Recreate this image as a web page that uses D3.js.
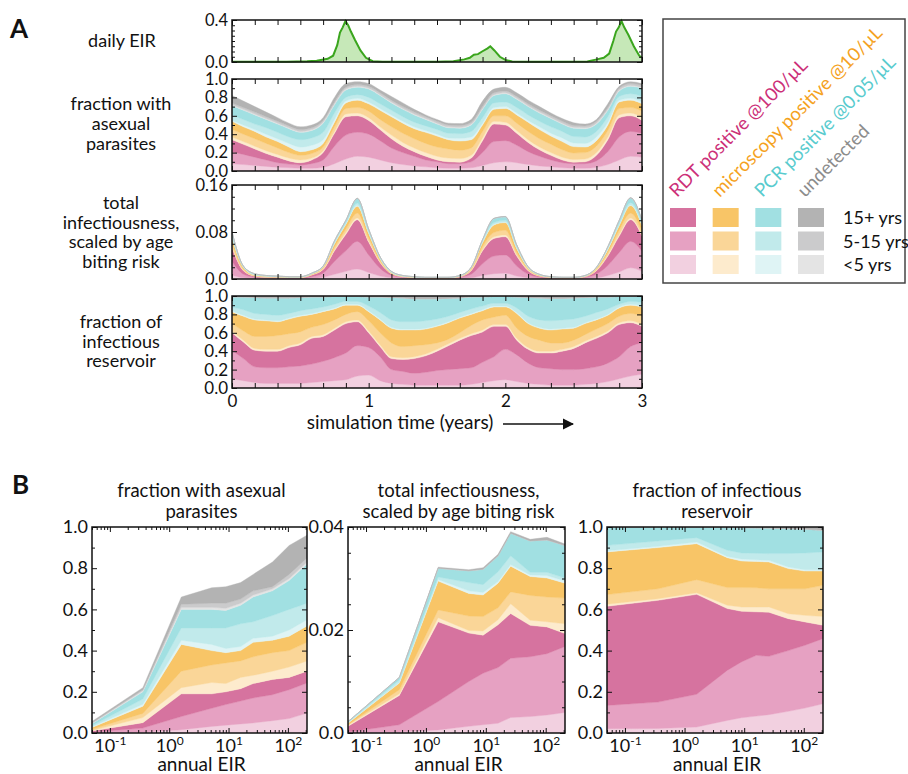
<!DOCTYPE html>
<html>
<head>
<meta charset="utf-8">
<script src="https://cdn.jsdelivr.net/npm/d3@7/dist/d3.min.js"></script>
<style>
  body { margin: 0; background: #fff; }
  svg text { font-family: Lato, "Open Sans", sans-serif; fill: #111; }
  .tick line { stroke: #111; stroke-width: 1; }
</style>
</head>
<body>
<svg id="chart" width="908" height="774"></svg>
<script>
// ---------------- data ----------------
// panel A: monthly samples over 3 simulated years
const simMonths = d3.range(37).map(k => k / 12);

// daily EIR (line)
const eirTime = [0,0.2,0.4,0.55,0.62,0.65,0.70,0.74,0.77,0.79,0.81,0.83,0.85,0.87,0.90,0.94,0.98,1.03,1.1,1.3,1.5,1.62,1.70,1.74,1.77,1.80,1.83,1.87,1.89,1.92,1.96,2.0,2.05,2.2,2.4,2.6,2.67,2.72,2.76,2.79,2.81,2.83,2.85,2.87,2.90,2.94,2.98,3.0];
const eirValue = [0.002,0.002,0.003,0.006,0.012,0.02,0.03,0.06,0.16,0.28,0.33,0.39,0.35,0.29,0.21,0.11,0.04,0.008,0.003,0.002,0.003,0.008,0.025,0.04,0.07,0.075,0.10,0.13,0.15,0.11,0.05,0.02,0.005,0.002,0.002,0.005,0.025,0.04,0.08,0.20,0.29,0.33,0.39,0.33,0.26,0.15,0.06,0.04];

// fraction with asexual parasites
const asexRdtU5  = [.08,.07,.06,.05,.04,.035,.03,.03,.04,.08,.13,.16,.15,.12,.09,.07,.055,.045,.035,.03,.03,.035,.06,.09,.10,.09,.07,.055,.045,.035,.03,.03,.04,.07,.12,.16,.15];
const asexRdt515 = [.13,.11,.09,.07,.05,.04,.035,.05,.08,.19,.26,.26,.25,.21,.16,.13,.105,.075,.065,.05,.05,.065,.14,.23,.23,.19,.14,.105,.075,.055,.05,.05,.07,.14,.25,.27,.26];
const asexRdt15  = [.13,.11,.09,.07,.06,.035,.025,.04,.08,.14,.20,.18,.15,.12,.10,.07,.05,.04,.02,.02,.015,.04,.13,.19,.17,.13,.10,.07,.05,.03,.015,.02,.06,.13,.21,.17,.14];
const asexMicU5  = [.03,.03,.03,.03,.03,.03,.03,.02,.02,.02,.03,.03,.03,.03,.04,.04,.04,.04,.04,.04,.04,.03,.03,.03,.03,.03,.03,.03,.03,.03,.03,.03,.03,.03,.03,.03,.03];
const asexMic515 = [.08,.08,.08,.08,.07,.06,.05,.05,.04,.05,.06,.06,.07,.08,.09,.10,.10,.10,.10,.10,.09,.08,.07,.06,.07,.08,.09,.09,.09,.08,.07,.07,.07,.07,.07,.06,.07];
const asexMic15  = [.09,.08,.08,.07,.07,.06,.04,.04,.04,.05,.06,.08,.08,.10,.11,.11,.11,.12,.12,.10,.10,.09,.07,.07,.08,.09,.10,.10,.09,.09,.07,.06,.06,.06,.07,.08,.08];
const asexPcrU5  = [.01,.02,.02,.03,.03,.04,.05,.05,.04,.03,.02,.02,.02,.02,.02,.02,.02,.02,.02,.02,.03,.03,.02,.02,.02,.02,.02,.03,.03,.04,.04,.04,.04,.03,.02,.02,.02];
const asexPcr515 = [.06,.06,.06,.07,.07,.07,.08,.08,.08,.07,.04,.04,.05,.05,.05,.05,.05,.05,.05,.05,.05,.06,.06,.05,.05,.06,.06,.06,.07,.07,.07,.07,.06,.06,.04,.05,.06];
const asexPcr15  = [.10,.10,.10,.09,.09,.09,.08,.08,.10,.09,.08,.08,.09,.09,.08,.08,.08,.07,.06,.06,.06,.07,.09,.08,.09,.09,.09,.09,.09,.08,.09,.09,.08,.07,.06,.08,.09];
const asexUndU5  = [.01,.01,.01,.01,.01,.01,.01,.01,.01,.01,.01,.01,.01,.01,.01,.01,.01,.01,.01,.01,.01,.01,.01,.01,.01,.01,.01,.01,.01,.01,.01,.01,.01,.01,.01,.01,.01];
const asexUnd515 = [.02,.02,.02,.02,.02,.02,.02,.02,.02,.02,.02,.02,.02,.02,.02,.02,.02,.02,.02,.02,.02,.02,.02,.02,.02,.02,.02,.02,.02,.02,.02,.02,.02,.02,.02,.02,.02];
const asexUnd15  = [.08,.07,.06,.05,.04,.03,.03,.03,.03,.05,.04,.03,.03,.03,.04,.04,.03,.02,.02,.02,.02,.03,.06,.04,.04,.04,.04,.04,.03,.03,.03,.02,.02,.04,.02,.02,.02];

// total infectiousness, scaled by age biting risk
const infRdtU5  = [.007,.002,.001,.001,.001,.0005,.0005,.001,.003,.008,.013,.017,.011,.005,.002,.001,.0005,.0005,.0005,.0005,.001,.002,.006,.009,.010,.005,.002,.001,.0005,.0005,.0005,.001,.002,.006,.012,.019,.013];
const infRdt515 = [.023,.006,.002,.001,.001,.001,.001,.003,.007,.022,.035,.047,.030,.013,.004,.002,.001,.0005,.0005,.0005,.002,.006,.020,.030,.031,.017,.006,.002,.001,.0005,.0005,.002,.006,.017,.033,.045,.034];
const infRdt15  = [.023,.006,.002,.001,.001,.001,.001,.003,.006,.018,.028,.037,.022,.010,.003,.001,.001,.0005,.0005,.0005,.001,.006,.022,.030,.031,.017,.006,.002,.001,.0005,.0005,.001,.006,.016,.028,.037,.026];
const infMicU5  = [.002,.001,0,0,0,0,0,0,.001,.002,.003,.003,.002,.001,0,0,0,0,0,0,0,.001,.002,.003,.003,.002,.001,0,0,0,0,0,.001,.002,.003,.003,.002];
const infMic515 = [.006,.002,.001,.001,.0005,.0005,.0005,.001,.002,.004,.006,.008,.005,.002,.001,.0005,.0005,.0005,.0005,.0005,.0005,.002,.005,.007,.008,.004,.002,.001,.0005,.0005,.0005,.0005,.002,.004,.007,.008,.006];
const infMic15  = [.009,.003,.001,.001,.0005,.0005,.0005,.001,.002,.006,.008,.012,.008,.004,.001,.0005,.0005,.0005,.0005,.0005,.0005,.002,.007,.013,.013,.007,.002,.001,.0005,.0005,.0005,.0005,.002,.005,.008,.013,.010];
const infPcrU5  = [.001,0,0,0,0,0,0,0,0,.001,.001,.001,.001,0,0,0,0,0,0,0,0,0,.001,.001,.001,.001,0,0,0,0,0,0,0,.001,.001,.001,.001];
const infPcr515 = [.003,.001,.001,0,0,0,0,0,.0005,.002,.002,.004,.002,.001,.001,.0005,0,0,0,0,.0005,.0005,.002,.003,.003,.002,.001,0,0,0,0,.0005,.0005,.002,.003,.004,.003];
const infPcr15  = [.006,.001,.001,.001,.001,.0005,.0005,.001,.0005,.002,.004,.008,.004,.002,.001,.0005,.0005,.0005,.0005,.0005,.0005,.0005,.002,.007,.006,.003,.001,.001,.0005,.0005,.0005,.0005,.0005,.002,.005,.008,.005];
const infUndU5  = [0,0,0,0,0,0,0,0,0,0,0,0,0,0,0,0,0,0,0,0,0,0,0,0,0,0,0,0,0,0,0,0,0,0,0,0,0];
const infUnd515 = [0,0,0,0,0,0,0,0,0,0,0,0,0,0,0,0,0,0,0,0,0,0,0,0,0,0,0,0,0,0,0,0,0,0,0,0,0];
const infUnd15  = [0,0,0,0,0,0,0,0,0,0,0,.0005,0,0,0,0,0,0,0,0,0,0,0,.0005,.0005,0,0,0,0,0,0,0,0,0,0,.0005,0];

// fraction of infectious reservoir
const resRdtU5  = [.10,.08,.06,.05,.05,.05,.05,.06,.07,.08,.09,.13,.14,.08,.05,.04,.03,.03,.03,.03,.03,.04,.06,.08,.09,.07,.05,.04,.03,.03,.03,.04,.05,.07,.10,.13,.15];
const resRdt515 = [.31,.24,.17,.17,.17,.18,.19,.20,.22,.25,.29,.33,.30,.26,.15,.14,.13,.14,.16,.17,.18,.18,.22,.26,.33,.29,.22,.18,.18,.17,.17,.17,.18,.20,.24,.32,.34];
const resRdt15  = [.19,.18,.18,.18,.18,.21,.23,.28,.27,.30,.32,.26,.16,.11,.12,.13,.16,.18,.21,.26,.31,.35,.33,.33,.25,.16,.15,.16,.17,.20,.23,.28,.31,.33,.35,.26,.18];
const resMicU5  = [.02,.02,.02,.02,.02,.02,.02,.02,.02,.02,.02,.02,.02,.02,.02,.02,.02,.02,.02,.02,.02,.02,.02,.02,.02,.02,.02,.02,.02,.02,.02,.02,.02,.02,.02,.02,.02];
const resMic515 = [.08,.10,.13,.14,.15,.13,.12,.10,.11,.09,.08,.09,.11,.13,.15,.12,.12,.10,.07,.05,.06,.09,.11,.08,.10,.11,.12,.12,.09,.07,.07,.07,.08,.08,.07,.08,.09];
const resMic15  = [.13,.16,.18,.17,.15,.16,.17,.14,.14,.12,.10,.07,.10,.14,.16,.18,.17,.17,.18,.18,.16,.12,.10,.11,.09,.16,.14,.13,.14,.15,.13,.12,.10,.09,.09,.09,.10];
const resPcrU5  = [.01,.01,.01,.01,.01,.01,.01,.01,.01,.01,.01,.01,.01,.01,.01,.01,.01,.01,.01,.01,.01,.01,.01,.01,.01,.01,.01,.01,.01,.01,.01,.01,.01,.01,.01,.01,.01];
const resPcr515 = [.04,.06,.06,.06,.06,.05,.05,.05,.04,.04,.03,.03,.05,.07,.08,.08,.08,.08,.07,.06,.05,.05,.04,.03,.03,.05,.07,.08,.09,.09,.09,.07,.07,.06,.03,.03,.04];
const resPcr15  = [.11,.14,.175,.18,.19,.17,.145,.13,.11,.085,.055,.055,.10,.17,.245,.26,.25,.24,.22,.195,.16,.13,.10,.075,.075,.12,.205,.24,.245,.235,.23,.205,.17,.13,.085,.055,.065];
const resUndU5  = [0,0,0,0,0,0,0,0,0,0,0,0,0,0,0,0,0,0,0,0,0,0,0,0,0,0,0,0,0,0,0,0,0,0,0,0,0];
const resUnd515 = [0,0,0,0,0,0,0,0,0,0,0,0,0,0,0,0,0,0,0,0,0,0,0,0,0,0,0,0,0,0,0,0,0,0,0,0,0];
const resUnd15  = [.01,.01,.015,.02,.02,.02,.015,.01,.01,.005,.005,.005,.01,.01,.015,.02,.03,.03,.03,.025,.02,.01,.01,.005,.005,.01,.015,.02,.025,.025,.02,.015,.01,.01,.005,.005,.005];

// panel B: annual EIR sweep
const annualEir = [0.05, 0.36, 1.6, 5.2, 9, 16, 26, 55, 105, 210];

const bAsexRdtU5  = [.002,.004,.016,.032,.038,.044,.049,.06,.07,.097];
const bAsexRdt515 = [.002,.02,.064,.088,.10,.111,.121,.126,.14,.146];
const bAsexRdt15  = [.006,.026,.11,.07,.062,.06,.07,.074,.06,.057];
const bAsexMicU5  = [.002,.025,.03,.055,.04,.055,.04,.04,.05,.05];
const bAsexMic515 = [.006,.02,.08,.085,.10,.08,.09,.09,.08,.09];
const bAsexMic15  = [.009,.035,.13,.07,.05,.05,.07,.06,.07,.08];
const bAsexPcrU5  = [.003,.01,.02,.03,.02,.02,.02,.02,.03,.03];
const bAsexPcr515 = [.006,.025,.06,.08,.10,.11,.08,.10,.10,.08];
const bAsexPcr15  = [.009,.035,.09,.09,.085,.09,.12,.12,.14,.19];
const bAsexUndU5  = [.002,.005,.01,.01,.01,.01,.01,.01,.01,.01];
const bAsexUnd515 = [.003,.005,.015,.02,.025,.02,.02,.01,.02,.02];
const bAsexUnd15  = [.006,.01,.035,.075,.08,.08,.08,.12,.14,.11];

const bInfRdtU5  = [0,.0002,.0006,.0013,.0016,.0019,.003,.0032,.0035,.004];
const bInfRdt515 = [.0002,.0014,.0055,.0087,.010,.0108,.0115,.0116,.0119,.0128];
const bInfRdt15  = [.0011,.0057,.0155,.0094,.0074,.0083,.0087,.0061,.0052,.0025];
const bInfMicU5  = [.0002,.0003,.0008,.0005,.0008,.001,.0019,.001,.001,.0019];
const bInfMic515 = [.0001,.0008,.0015,.0028,.0028,.0023,.0023,.0048,.0048,.005];
const bInfMic15  = [.0003,.0013,.0056,.0044,.0042,.0048,.005,.0037,.0037,.0029];
const bInfPcrU5  = [.0001,.0001,.0003,.0005,.0005,.0003,.0003,.0003,.0005,.0004];
const bInfPcr515 = [.0001,.0005,.0005,.0016,.0015,.0019,.0017,.0005,.0006,.0006];
const bInfPcr15  = [.0001,.0005,.0017,.0023,.003,.0031,.0044,.0061,.0063,.0063];
const bInfUndU5  = [0,0,0,0,0,0,0,0,0,0];
const bInfUnd515 = [0,0,0,0,0,0,0,0,0,0];
const bInfUnd15  = [0,0,.0002,.0002,.0003,.0003,.0003,.0003,.0005,.0003];

const bResRdtU5  = [.021,.022,.029,.061,.074,.082,.089,.105,.121,.142];
const bResRdt515 = [.113,.128,.159,.243,.271,.295,.283,.295,.305,.316];
const bResRdt15  = [.481,.494,.485,.30,.246,.211,.214,.155,.113,.065];
const bResMicU5  = [.01,.008,.008,.016,.021,.024,.026,.024,.032,.043];
const bResMic515 = [.047,.048,.063,.086,.094,.093,.088,.121,.129,.151];
const bResMic15  = [.207,.20,.175,.145,.129,.128,.13,.098,.086,.069];
const bResPcrU5  = [.006,.006,.008,.006,.01,.008,.008,.008,.006,.006];
const bResPcr515 = [.026,.026,.021,.03,.029,.031,.033,.065,.082,.087];
const bResPcr15  = [.089,.068,.052,.11,.123,.124,.124,.121,.116,.105];
const bResUndU5  = [0,0,0,0,0,0,0,0,0,0];
const bResUnd515 = [0,0,0,0,0,0,0,0,0,0];
const bResUnd15  = [0,0,0,.003,.003,.004,.005,.008,.01,.016];

// legend
const testNames = ["RDT positive @100/µL", "microscopy positive @10/µL", "PCR positive @0.05/µL", "undetected"];
const testColors = ["#cc2f78", "#f5a21e", "#58cbce", "#8c8c8c"];
const ageNames = ["15+ yrs", "5-15 yrs", "<5 yrs"];

// ---------------- setup ----------------
const layerKeys = ["rdtU5","rdt515","rdt15","micU5","mic515","mic15","pcrU5","pcr515","pcr15","undU5","und515","und15"];
const layerColors = ["#f2d0e0","#e6a1c2","#d6739f","#fdebcd","#fad698","#f8c567","#dff4f5","#c1eaeb","#a1e0e2","#e4e4e4","#cbcbcc","#b3b3b3"];

const svg = d3.select("#chart");

function toRows(xs, layers) {
  return xs.map((x, i) => {
    const r = { x: x };
    layerKeys.forEach((k, j) => { r[k] = layers[j][i]; });
    return r;
  });
}

let clipCount = 0;
function stackArea(x, y, rows, curve) {
  const id = "clip" + (clipCount++);
  const [x0, x1] = x.range();
  const [yb, yt] = y.range();
  svg.append("clipPath").attr("id", id).append("rect")
    .attr("x", x0).attr("y", yt).attr("width", x1 - x0).attr("height", yb - yt);
  const series = d3.stack().keys(layerKeys)(rows);
  const area = d3.area()
    .x(d => x(d.data.x))
    .y0(d => y(d[0]))
    .y1(d => y(d[1]))
    .curve(curve);
  svg.append("g").attr("clip-path", `url(#${id})`)
    .selectAll("path").data(series).join("path")
    .attr("fill", (d, i) => layerColors[i])
    .attr("stroke", (d, i) => layerColors[i])
    .attr("stroke-width", 0.4)
    .attr("d", area);
}

function addAxis(axis, tx, ty, fs) {
  const a = svg.append("g").attr("transform", `translate(${tx},${ty})`).call(axis);
  a.select(".domain").remove();
  a.selectAll(".tick text").filter(function() { return this.textContent === ""; }).remove();
  a.attr("font-size", fs || 16.5).attr("font-family", null);
  return a;
}

function frame(x, y, o) {
  const [x0, x1] = x.range();
  const [yb, yt] = y.range();
  const len = 5, small = 3;
  addAxis(d3.axisLeft(y).tickValues(o.yTicks).tickSize(-len).tickPadding(4).tickFormat(o.yFmt), x0, 0, o.fs);
  addAxis(d3.axisRight(y).tickValues(o.yTicks).tickSize(-len).tickFormat(""), x1, 0);
  if (o.yMinor) {
    addAxis(d3.axisLeft(y).tickValues(o.yMinor).tickSize(-small).tickFormat(""), x0, 0);
    addAxis(d3.axisRight(y).tickValues(o.yMinor).tickSize(-small).tickFormat(""), x1, 0);
  }
  const bottom = addAxis(d3.axisBottom(x).tickValues(o.xTicks).tickSize(-len).tickPadding(o.xPad || 6).tickFormat(o.xFmt || (() => "")), 0, yb, o.fs);
  addAxis(d3.axisTop(x).tickValues(o.xTicks).tickSize(-len).tickFormat(""), 0, yt);
  if (o.xMinor) {
    addAxis(d3.axisBottom(x).tickValues(o.xMinor).tickSize(-small).tickFormat(""), 0, yb);
    addAxis(d3.axisTop(x).tickValues(o.xMinor).tickSize(-small).tickFormat(""), 0, yt);
  }
  svg.append("rect").attr("x", x0).attr("y", yt).attr("width", x1 - x0).attr("height", yb - yt)
    .attr("fill", "none").attr("stroke", "#111").attr("stroke-width", 1.5);
  return bottom;
}

function multiline(lines, cx, y0, dy, fs) {
  const t = svg.append("text").attr("text-anchor", "middle").attr("font-size", fs || 18);
  lines.forEach((s, i) => t.append("tspan").attr("x", cx).attr("y", y0 + i * dy).text(s));
}

// ---------------- panel A ----------------
const tx = d3.scaleLinear().domain([0, 3]).range([232, 642]);
const tTicks = d3.range(0, 19).map(k => k / 6);
const fmt1 = d3.format(".1f");

// daily EIR
const yEir = d3.scaleLinear().domain([0, 0.4]).range([62, 20]);
const eirRows = eirTime.map((t, i) => ({ t: t, v: eirValue[i] }));
svg.append("path").datum(eirRows)
  .attr("fill", "#c6e8b8")
  .attr("d", d3.area().x(d => tx(d.t)).y0(yEir(0)).y1(d => yEir(d.v)));
svg.append("path").datum(eirRows)
  .attr("fill", "none").attr("stroke", "#3aa51d").attr("stroke-width", 2)
  .attr("d", d3.line().x(d => tx(d.t)).y(d => yEir(d.v)));
frame(tx, yEir, { yTicks: [0, 0.4], yMinor: d3.range(1, 8).map(k => k * 0.05), yFmt: fmt1, xTicks: tTicks });

// asexual parasites
const yAsex = d3.scaleLinear().domain([0, 1]).range([171, 79]);
stackArea(tx, yAsex, toRows(simMonths, [asexRdtU5, asexRdt515, asexRdt15, asexMicU5, asexMic515, asexMic15, asexPcrU5, asexPcr515, asexPcr15, asexUndU5, asexUnd515, asexUnd15]), d3.curveMonotoneX);
frame(tx, yAsex, { yTicks: [0, 0.2, 0.4, 0.6, 0.8, 1.0], yMinor: [0.1, 0.3, 0.5, 0.7, 0.9], yFmt: fmt1, xTicks: tTicks });

// infectiousness
const yInf = d3.scaleLinear().domain([0, 0.16]).range([279, 185]);
stackArea(tx, yInf, toRows(simMonths, [infRdtU5, infRdt515, infRdt15, infMicU5, infMic515, infMic15, infPcrU5, infPcr515, infPcr15, infUndU5, infUnd515, infUnd15]), d3.curveMonotoneX);
frame(tx, yInf, { yTicks: [0, 0.08, 0.16], yMinor: [0.02, 0.04, 0.06, 0.10, 0.12, 0.14], yFmt: d => d === 0 ? "0.0" : d3.format(".2f")(d), xTicks: tTicks });

// infectious reservoir
const yRes = d3.scaleLinear().domain([0, 1]).range([388, 296]);
stackArea(tx, yRes, toRows(simMonths, [resRdtU5, resRdt515, resRdt15, resMicU5, resMic515, resMic15, resPcrU5, resPcr515, resPcr15, resUndU5, resUnd515, resUnd15]), d3.curveMonotoneX);
frame(tx, yRes, { yTicks: [0, 0.2, 0.4, 0.6, 0.8, 1.0], yMinor: [0.1, 0.3, 0.5, 0.7, 0.9], yFmt: fmt1, xTicks: tTicks,
  xFmt: d => Math.abs(d - Math.round(d)) < 1e-6 ? String(Math.round(d)) : "", xPad: 7, fs: 17 });

// row labels
svg.append("text").attr("x", 10).attr("y", 38).attr("font-size", 26).attr("font-weight", 700).text("A");
multiline(["daily EIR"], 122, 47, 20);
multiline(["fraction with", "asexual", "parasites"], 121, 110, 20);
multiline(["total", "infectiousness,", "scaled by age", "biting risk"], 121, 209, 19.5);
multiline(["fraction of", "infectious", "reservoir"], 121, 328, 19.5);

svg.append("text").attr("x", 400).attr("y", 429).attr("text-anchor", "middle").attr("font-size", 19).text("simulation time (years)");
svg.append("defs").append("marker").attr("id", "arrow").attr("viewBox", "0 0 10 10")
  .attr("refX", 9).attr("refY", 5).attr("markerWidth", 7).attr("markerHeight", 7).attr("orient", "auto")
  .append("path").attr("d", "M0,0L10,5L0,10z").attr("fill", "#111");
svg.append("line").attr("x1", 503).attr("x2", 573).attr("y1", 424).attr("y2", 424)
  .attr("stroke", "#111").attr("stroke-width", 1.6).attr("marker-end", "url(#arrow)");

// legend
svg.append("rect").attr("x", 663).attr("y", 19).attr("width", 242).attr("height", 264)
  .attr("fill", "none").attr("stroke", "#444").attr("stroke-width", 1.5);
const legX = d3.scalePoint().domain(testNames).range([670, 798]);
const legY = d3.scalePoint().domain(ageNames).range([208, 255]);
const ageColor = [[2, 1, 0], [5, 4, 3], [8, 7, 6], [11, 10, 9]];
testNames.forEach((name, i) => {
  ageNames.forEach((age, j) => {
    svg.append("rect").attr("x", legX(name)).attr("y", legY(age)).attr("width", 26).attr("height", 19)
      .attr("fill", layerColors[ageColor[i][j]]);
  });
  svg.append("text").attr("transform", `translate(${legX(name) + 7},198) rotate(-45)`)
    .attr("font-size", 18.5).style("fill", testColors[i]).text(name);
});
ageNames.forEach(age => {
  svg.append("text").attr("x", 843).attr("y", legY(age) + 16).attr("font-size", 18).text(age);
});

// ---------------- panel B ----------------
svg.append("text").attr("x", 12).attr("y", 494).attr("font-size", 26).attr("font-weight", 700).text("B");

const logMajor = [0.1, 1, 10, 100];
function logAxisLabels(sel) {
  sel.selectAll(".tick text").each(function(d) {
    const t = d3.select(this);
    if (!logMajor.includes(d)) { t.text(""); return; }
    t.text("10");
    t.append("tspan").attr("dy", "-0.55em").attr("font-size", 12).text(Math.round(Math.log10(d)));
  });
}

const bPanels = [
  { x0: 92, x1: 307, title: ["fraction with asexual", "parasites"], yMax: 1, yTicks: [0, 0.2, 0.4, 0.6, 0.8, 1.0], yMinor: [0.1, 0.3, 0.5, 0.7, 0.9], yFmt: fmt1,
    layers: [bAsexRdtU5, bAsexRdt515, bAsexRdt15, bAsexMicU5, bAsexMic515, bAsexMic15, bAsexPcrU5, bAsexPcr515, bAsexPcr15, bAsexUndU5, bAsexUnd515, bAsexUnd15] },
  { x0: 348, x1: 565, title: ["total infectiousness,", "scaled by age biting risk"], yMax: 0.04, yTicks: [0, 0.02, 0.04], yMinor: [0.005, 0.01, 0.015, 0.025, 0.03, 0.035], yFmt: d => d === 0 ? "0.0" : d3.format(".2f")(d),
    layers: [bInfRdtU5, bInfRdt515, bInfRdt15, bInfMicU5, bInfMic515, bInfMic15, bInfPcrU5, bInfPcr515, bInfPcr15, bInfUndU5, bInfUnd515, bInfUnd15] },
  { x0: 607, x1: 823, title: ["fraction of infectious", "reservoir"], yMax: 1, yTicks: [0, 0.2, 0.4, 0.6, 0.8, 1.0], yMinor: [0.1, 0.3, 0.5, 0.7, 0.9], yFmt: fmt1,
    layers: [bResRdtU5, bResRdt515, bResRdt15, bResMicU5, bResMic515, bResMic15, bResPcrU5, bResPcr515, bResPcr15, bResUndU5, bResUnd515, bResUnd15] }
];

bPanels.forEach(p => {
  const x = d3.scaleLog().domain([0.05, 210]).range([p.x0, p.x1]);
  const y = d3.scaleLinear().domain([0, p.yMax]).range([733, 527]);
  stackArea(x, y, toRows(annualEir, p.layers), d3.curveLinear);
  const minor = x.ticks().filter(v => !logMajor.some(m => Math.abs(m - v) < 1e-9));
  const bottom = frame(x, y, { yTicks: p.yTicks, yMinor: p.yMinor, yFmt: p.yFmt, xTicks: logMajor, xMinor: minor, xFmt: d => String(d), xPad: 6, fs: 18 });
  logAxisLabels(bottom);
  multiline(p.title, (p.x0 + p.x1) / 2 + 2, 497, 21, 18.5);
  svg.append("text").attr("x", (p.x0 + p.x1) / 2 + 2).attr("y", 771).attr("text-anchor", "middle").attr("font-size", 19).text("annual EIR");
});
</script>
</body>
</html>
